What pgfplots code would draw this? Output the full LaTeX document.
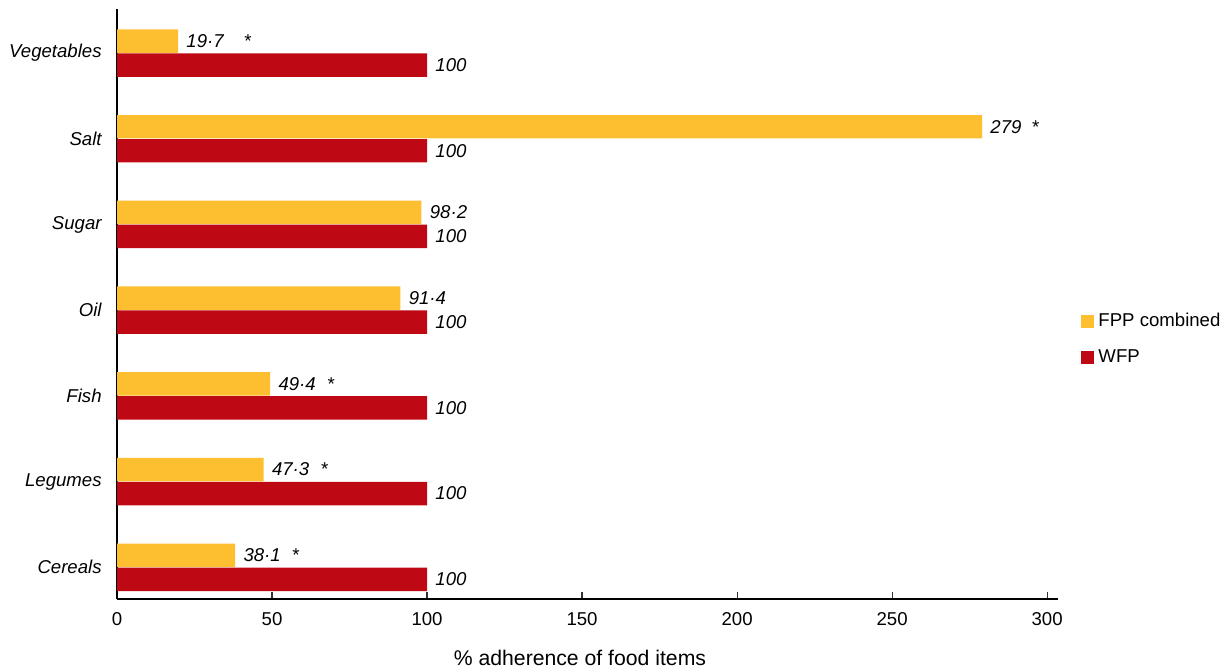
\documentclass[border=0pt]{standalone}
\usepackage{pgfplots}
\pgfplotsset{compat=1.18}
\usepackage{fontspec}
\setmainfont{Liberation Sans}
\definecolor{fpp}{RGB}{253,190,47}
\definecolor{wfp}{RGB}{190,8,20}
\begin{document}
\begin{tikzpicture}
\begin{axis}[
  at={(58.5pt,35pt)}, anchor=south west,
  scale only axis, width=470.5pt, height=295pt,
  xbar, bar width=0.274,
  xmin=0, xmax=303.5, ymin=-0.37, ymax=6.514,
  xtick={0,50,100,150,200,250,300},
  ytick={0,1,2,3,4,5,6},
  yticklabels={Cereals,Legumes,Fish,Oil,Sugar,Salt,Vegetables},
  axis x line=bottom, axis y line=left,
  axis line style={-, line width=0.6pt, black},
  tick align=inside, major tick length=3.5pt,
  xtick style={line width=0.6pt, black!80},
  ytick style={draw=none},
  /pgf/number format/assume math mode=true,
  tick label style={font=\fontsize{9.3}{11}\selectfont},
  xticklabel style={inner sep=0pt, anchor=north, yshift=-6.5pt},
  yticklabel style={inner sep=0pt, anchor=east, xshift=-7.5pt, font=\fontsize{9.3}{11}\selectfont\itshape},
  xlabel={\% adherence of food items},
  xlabel style={at={(axis description cs:0.492,0)}, anchor=center, yshift=-29.5pt, font=\fontsize{10.6}{12}\selectfont},
  point meta=explicit symbolic,
  nodes near coords,
  every node near coord/.append style={anchor=west, inner sep=0pt, xshift=4pt, font=\fontsize{9.3}{11}\selectfont\itshape, text=black},
  legend style={at={(axis description cs:1.0245,0.44)}, anchor=west, draw=none, fill=none,
    font=\fontsize{9.3}{11}\selectfont, row sep=6pt, inner sep=0pt,
    cells={anchor=west}},
  legend image code/.code={\fill[#1] (0pt,-3.25pt) rectangle (6.5pt,3.25pt);},
]
\addplot[fill=fpp, draw=none, bar shift=0.14] coordinates {
  (38.1,0) [38·1\hspace{5.5pt}*]
  (47.3,1) [47·3\hspace{5.5pt}*]
  (49.4,2) [49·4\hspace{5.5pt}*]
  (91.4,3) [91·4]
  (98.2,4) [98·2]
  (279,5) [279\hspace{5pt}*]
  (19.7,6) [19·7\hspace{10pt}*]
};
\addplot[fill=wfp, draw=none, bar shift=-0.14] coordinates {
  (100,0) [100]
  (100,1) [100]
  (100,2) [100]
  (100,3) [100]
  (100,4) [100]
  (100,5) [100]
  (100,6) [100]
};
\legend{FPP combined, WFP}
\end{axis}
\pgfresetboundingbox
\useasboundingbox (0,0) rectangle (613pt,334.5pt);
\end{tikzpicture}
\end{document}
